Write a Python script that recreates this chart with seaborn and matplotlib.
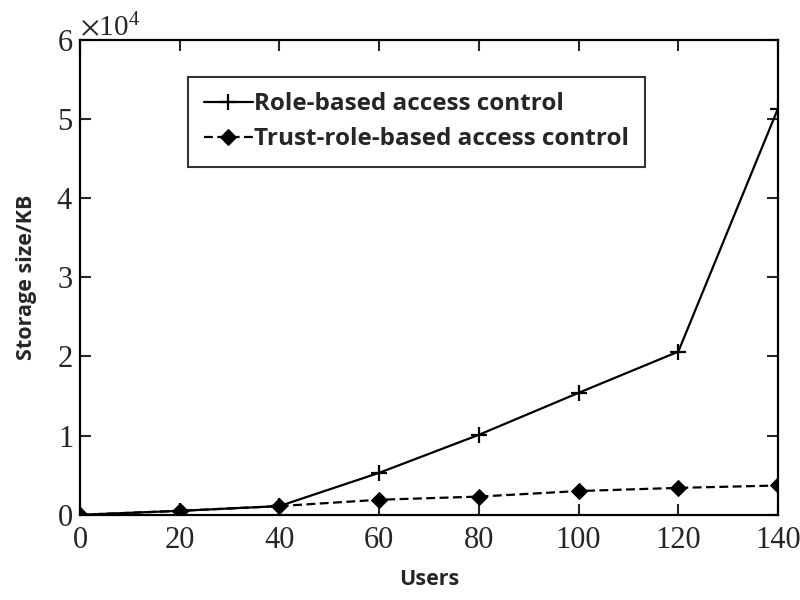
import numpy as np
import pandas as pd
import seaborn as sns
import matplotlib.pyplot as plt
from matplotlib.ticker import ScalarFormatter

users = [0, 20, 40, 60, 80, 100, 120, 140]
role_based = [0, 500, 1100, 5300, 10100, 15400, 20600, 51300]
trust_role_based = [0, 500, 1100, 1900, 2300, 3000, 3400, 3700]
series_names = ["Role-based access control", "Trust-role-based access control"]

df_role = pd.DataFrame({"Users": users, "Storage": role_based})
df_trust = pd.DataFrame({"Users": users, "Storage": trust_role_based})

sns.set_style("ticks")
plt.rcParams["font.family"] = ["Liberation Serif", "DejaVu Serif"]
plt.rcParams["mathtext.fontset"] = "stix"

fig = plt.figure(figsize=(8, 6), dpi=100)
ax = fig.add_axes([0.1, 0.142, 0.8725, 0.792])

sns.lineplot(data=df_role, x="Users", y="Storage", label=series_names[0],
             marker="+", color="black", linewidth=1.6, markersize=11,
             markeredgewidth=1.6, markeredgecolor="black", ax=ax)
sns.lineplot(data=df_trust, x="Users", y="Storage", label=series_names[1],
             marker="D", linestyle=(0, (4, 2)), color="black", linewidth=1.6,
             markersize=8, markeredgecolor="black", ax=ax)

ax.set_xlim(0, 140)
ax.set_ylim(0, 60000)
ax.set_xticks(np.arange(0, 141, 20))
ax.set_yticks(np.arange(0, 60001, 10000))

fmt = ScalarFormatter(useMathText=True)
fmt.set_powerlimits((0, 0))
ax.yaxis.set_major_formatter(fmt)
ax.yaxis.get_offset_text().set_fontsize(21)

ax.tick_params(direction="in", top=True, right=True, labelsize=22,
               length=8, width=1.5)
ax.tick_params(axis="x", pad=8)
ax.tick_params(axis="y", pad=5)
for sp in ax.spines.values():
    sp.set_linewidth(1.6)
    sp.set_color("black")

ax.set_xlabel("Users", fontsize=15.5, fontweight="bold", family="Open Sans", labelpad=10)
ax.set_ylabel("Storage size/KB", fontsize=15.5, fontweight="bold", family="Open Sans", labelpad=14)

leg = ax.legend(loc="upper left", bbox_to_anchor=(0.155, 0.922), frameon=True,
                fancybox=False, edgecolor="black", handlelength=2.0,
                handletextpad=0.05, borderpad=0.65, labelspacing=0.45,
                borderaxespad=0,
                prop={"family": "Open Sans", "weight": "bold", "size": 17.5})
leg.get_frame().set_linewidth(1.5)

plt.savefig("out.png", dpi=100)
